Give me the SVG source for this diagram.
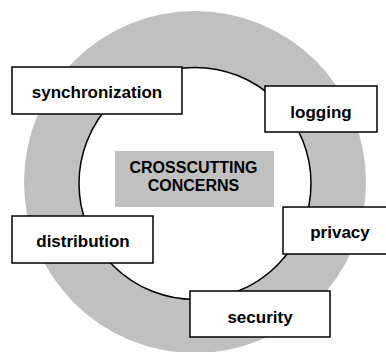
<svg xmlns="http://www.w3.org/2000/svg" width="386" height="352" viewBox="0 0 386 352">
<style>
.box{fill:#ffffff;stroke:#000000;stroke-width:1.5}
.lbl{font-family:"Liberation Sans",Arial,sans-serif;font-weight:bold;font-size:17px;fill:#000000;text-anchor:middle}
.ctr{font-family:"Liberation Sans",Arial,sans-serif;font-weight:bold;font-size:16px;fill:#000000;text-anchor:middle}
</style>
<rect x="0" y="0" width="386" height="352" fill="#ffffff"/>
<g id="ring">
<circle cx="195" cy="182" r="171" fill="#c0c0c0"/>
<circle cx="195" cy="183.4" r="116" fill="#ffffff" stroke="#000000" stroke-width="1.5"/>
</g>
<g id="connectors"></g>
<g id="center">
<rect x="115" y="151" width="159" height="56" fill="#c0c0c0"/>
<text class="ctr" x="193.5" y="173">CROSSCUTTING</text>
<text class="ctr" x="193.5" y="191">CONCERNS</text>
</g>
<g id="synchronization">
<rect class="box" x="12" y="67" width="170" height="47"/>
<text class="lbl" x="97" y="98">synchronization</text>
</g>
<g id="logging">
<rect class="box" x="265" y="86" width="112" height="46"/>
<text class="lbl" x="321" y="118">logging</text>
</g>
<g id="distribution">
<rect class="box" x="12" y="216" width="141" height="47"/>
<text class="lbl" x="83" y="247">distribution</text>
</g>
<g id="privacy">
<rect class="box" x="283" y="207" width="110" height="47"/>
<text class="lbl" x="340" y="238">privacy</text>
</g>
<g id="security">
<rect class="box" x="190" y="291" width="140" height="46"/>
<text class="lbl" x="260" y="323">security</text>
</g>
</svg>
